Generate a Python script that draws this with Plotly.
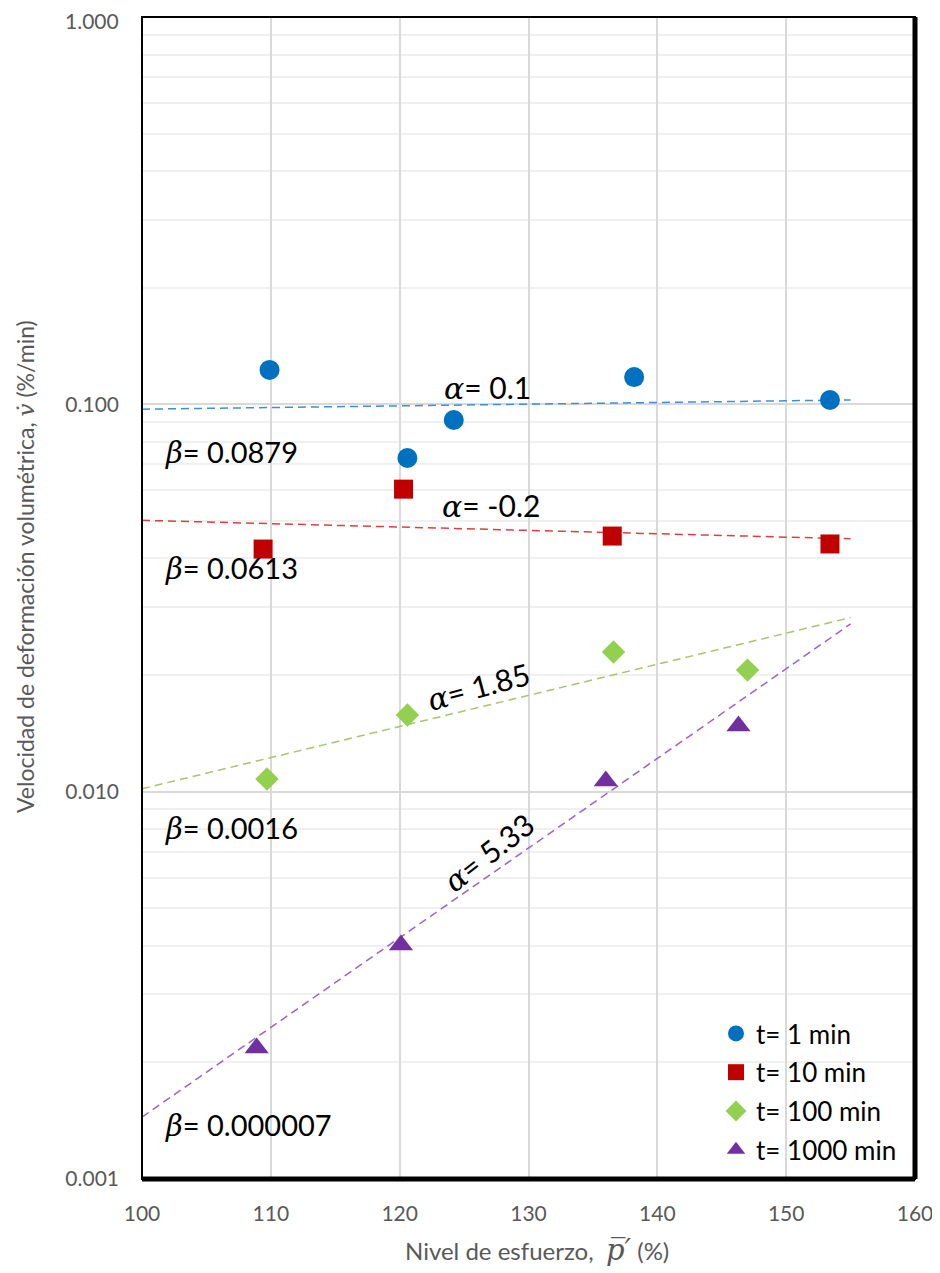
import math
import plotly.graph_objects as go

# ---- data ----
series_names = ["t= 1 min", "t= 10 min", "t= 100 min", "t= 1000 min"]
x_t1 = [109.9, 120.6, 124.2, 138.2, 153.4]
y_t1 = [0.1227, 0.0727, 0.0911, 0.1176, 0.1026]
x_t10 = [109.4, 120.3, 136.5, 153.4]
y_t10 = [0.0423, 0.0604, 0.0457, 0.0436]
x_t100 = [109.7, 120.6, 136.6, 147.0]
y_t100 = [0.01078, 0.01577, 0.02293, 0.0206]
x_t1000 = [108.9, 120.1, 136.0, 146.3]
y_t1000 = [0.00218, 0.00402, 0.01065, 0.01477]

# trend-line parameters shown on the chart: v = beta * exp(alpha * p)
alphas = [0.1, -0.2, 1.85, 5.33]
betas = [0.0879, 0.0613, 0.0016, 0.000007]
alpha_labels = ["0.1", "-0.2", "1.85", "5.33"]
beta_labels = ["0.0879", "0.0613", "0.0016", "0.000007"]
trend_x = [100, 155]

x_ticks = [100, 110, 120, 130, 140, 150, 160]
y_ticks = [0.001, 0.01, 0.1]
y_tick_text = ["0.001", "0.010", "0.100"]
y_top_label = "1.000"

marker_colors = ["#0070C0", "#C00000", "#92D050", "#7030A0"]
line_colors = ["#3D8FD8", "#DA4040", "#A9C46E", "#9A62CF"]
symbols = ["circle", "square", "diamond", "triangle-up"]
sizes = [20, 19, 18, 21]

xs = [x_t1, x_t10, x_t100, x_t1000]
ys = [y_t1, y_t10, y_t100, y_t1000]

FONT = "Lato"
fig = go.Figure()

for a, b, c in zip(alphas, betas, line_colors):
    fig.add_trace(go.Scatter(
        x=trend_x, y=[b * math.exp(a * xv / 100.0) for xv in trend_x],
        mode="lines", line=dict(color=c, width=1.5, dash="8px,5px"),
        showlegend=False, hoverinfo="skip"))

for i in range(4):
    fig.add_trace(go.Scatter(
        x=xs[i], y=ys[i], mode="markers", name=series_names[i],
        legendgroup=str(i),
        marker=dict(symbol=symbols[i], size=sizes[i], color=marker_colors[i],
                    line=dict(width=0))))

# page offset of the figure (body margin) and plot area in screen pixels
OFF = 8
L, R, T, B = 142, 915, 17, 1179
W, H = 940 - OFF, 1273 - OFF

def px(xp, yp):
    return (xp - L) / (R - L), 1 - (yp - T) / (B - T)

def greek(ch, size=None):
    s = f";font-size:{size}px" if size else ""
    return f"<span style='font-family:DejaVu Serif{s}'><i>{ch}</i></span>"

annos = []
alpha_pos = [(487, 388, 0), (491, 505, 0), (478, 686, -15), (488, 852, -38)]
beta_pos = [(163, 452), (163, 568), (163, 828), (163, 1125)]
for k in range(4):
    ax_, ay_, ang = alpha_pos[k]
    xp, yp = px(ax_, ay_)
    annos.append(dict(x=xp, y=yp, xref="paper", yref="paper", showarrow=False,
                      text=greek("α") + "= " + alpha_labels[k], textangle=ang,
                      font=dict(family=FONT, size=30, color="#000000"),
                      xanchor="center", yanchor="middle"))
    bx, by = beta_pos[k]
    xp, yp = px(bx, by)
    annos.append(dict(x=xp, y=yp, xref="paper", yref="paper", showarrow=False,
                      text=greek("β") + "= " + beta_labels[k],
                      font=dict(family=FONT, size=29, color="#000000"),
                      xanchor="left", yanchor="middle"))

# top y tick label (placed as annotation so it is not clipped at the page edge)
xp, yp = px(121, 21)
annos.append(dict(x=xp, y=yp, xref="paper", yref="paper", showarrow=False,
                  xanchor="right", yanchor="middle", text=y_top_label,
                  font=dict(family=FONT, size=21, color="#595959")))

xp, yp = px(537, 1250)
annos.append(dict(x=xp, y=yp, xref="paper", yref="paper",
                  showarrow=False, xanchor="center", yanchor="middle",
                  text="Nivel de esfuerzo,  " + "<span style='font-family:DejaVu Serif;font-size:29px'><i>p&#773;′</i></span> (%)",
                  font=dict(family=FONT, size=24, color="#595959")))
xp, yp = px(25, 567)
annos.append(dict(x=xp, y=yp, xref="paper", yref="paper",
                  showarrow=False, xanchor="center", yanchor="middle", textangle=-90,
                  text="Velocidad de deformación volumétrica, " + "<span style='font-family:DejaVu Serif'><i>v&#775;</i></span> (%/min)",
                  font=dict(family=FONT, size=23, color="#595959")))

minor_vals = [m * 10 ** e for e in (-3, -2, -1) for m in range(2, 10)]

lx, ly = px(716, 1174)
fig.update_layout(
    width=W, height=H,
    margin=dict(l=L - OFF, r=W - (R - OFF), t=T - OFF, b=H - (B - OFF), pad=0,
                autoexpand=False),
    paper_bgcolor="white", plot_bgcolor="white",
    font=dict(family=FONT, color="#595959"),
    showlegend=True,
    legend=dict(x=lx, y=ly, xanchor="left", yanchor="bottom",
                bgcolor="rgba(0,0,0,0)", font=dict(family=FONT, size=26, color="#000000"),
                tracegroupgap=2, itemsizing="trace"),
    annotations=annos,
    shapes=[
        dict(type="rect", xref="paper", yref="paper", x0=0, x1=1, y0=0, y1=1,
             line=dict(color="#000000", width=2), layer="above"),
        dict(type="line", xref="paper", yref="paper", x0=1, x1=1, y0=0, y1=1,
             line=dict(color="#000000", width=5), layer="above"),
        dict(type="line", xref="paper", yref="paper", x0=0, x1=1, y0=0, y1=0,
             line=dict(color="#000000", width=5), layer="above"),
    ],
)
fig.update_xaxes(range=[100, 160], tickvals=x_ticks, showgrid=True, gridcolor="#D9D9D9",
                 gridwidth=1.5, zeroline=False, showline=False, ticks="",
                 ticklabeloverflow="allow", automargin=False,
                 tickfont=dict(family=FONT, size=21, color="#595959"), ticklabelstandoff=20)
fig.update_yaxes(type="log", range=[-3, 0], tickvals=y_ticks, ticktext=y_tick_text,
                 showgrid=True, gridcolor="#D9D9D9", gridwidth=1.5, zeroline=False,
                 showline=False, ticks="", ticklabeloverflow="allow", automargin=False,
                 minor=dict(tickvals=minor_vals, showgrid=True, gridcolor="#F0F0F0", gridwidth=1.5),
                 tickfont=dict(family=FONT, size=21, color="#595959"), ticklabelstandoff=22)

fig.write_html("out.html")
